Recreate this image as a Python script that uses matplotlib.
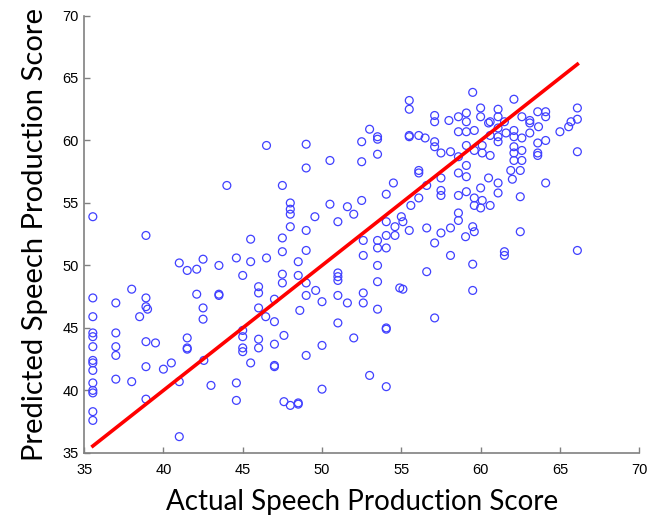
import matplotlib
matplotlib.use('Agg')
import matplotlib.pyplot as plt
import numpy as np

# actual vs predicted speech production scores
actual = [
    35.55, 35.55, 35.55, 35.55, 35.55, 35.55, 35.55, 35.55, 35.55, 35.55, 35.55, 35.55, 35.55, 35.55,
    44.0, 38.9, 37.0, 37.0, 37.0, 37.0, 37.0, 38.0, 38.0, 38.9, 38.9, 39.0, 38.5, 38.9, 39.5, 38.9,
    38.9, 40.0, 40.5, 41.0, 41.0, 41.0, 41.5, 42.1, 42.5, 42.1, 42.5, 42.5, 41.5, 41.5, 41.5, 42.55,
    43.0, 43.5, 43.5, 43.5, 44.6, 45.0, 45.5, 45.5, 44.6, 44.6, 45.0, 45.0, 45.0, 45.0, 45.5,
    46.5, 49.0, 49.0, 50.5, 53.0, 53.5, 53.5, 52.5, 52.5, 53.5, 47.5, 48.0, 48.0, 48.0, 50.5, 51.6,
    52.0, 52.5, 54.05, 54.5, 49.55, 51.0, 48.0, 49.0, 47.5, 47.5, 49.0, 46.5, 48.5, 47.5, 47.5, 48.5,
    49.0, 51.0, 51.0, 51.0, 54.05, 54.05, 54.6, 53.5, 53.5, 54.05, 52.6, 52.6, 53.5, 53.5, 54.9, 46.0,
    46.0, 47.0, 46.45, 47.0, 46.0, 48.6, 49.0, 49.6, 50.0, 51.0, 51.6, 52.6, 52.6, 53.5, 51.0, 52.0,
    54.05, 54.05, 46.0, 46.0, 47.0, 47.6, 47.0, 47.0, 49.0, 50.0, 53.0, 54.05, 50.0, 47.6, 48.0, 48.5,
    48.5,
    59.5, 55.5, 55.5, 62.1, 66.1, 66.1, 66.1, 57.1, 57.1, 58.0, 58.6, 59.1, 59.1, 60.0, 60.0, 60.6,
    61.1, 61.1, 60.5, 59.6, 58.6, 59.1, 61.1, 61.5, 62.6, 63.1, 63.1, 63.6, 64.1, 64.1, 63.65, 63.1,
    62.1, 62.1, 61.6, 62.6, 62.1, 62.1, 62.6, 62.6, 62.1, 63.6, 63.6, 64.1, 63.6, 65.0, 65.55, 65.7,
    61.1, 61.1, 60.6, 60.1, 59.6, 60.1, 60.6, 59.1, 58.6, 59.1, 58.6, 59.1, 55.5, 55.5, 56.1, 56.5,
    57.1, 57.1, 57.5, 58.1, 56.1, 56.1, 57.5, 56.6, 57.5, 57.5, 56.1, 58.6, 59.1, 59.6, 60.0, 60.0,
    60.1, 60.5, 61.1, 61.1, 60.6, 59.6, 61.9, 62.0, 62.5, 62.5, 64.1, 62.5, 66.1, 61.5, 61.5, 55.6,
    55.0, 55.1, 54.6, 55.5, 56.6, 57.5, 58.1, 58.6, 58.6, 59.05, 59.5, 59.6, 57.1, 58.1,
    59.5, 56.6, 55.1, 59.5, 57.1,
]
predicted = [
    53.9, 47.4, 45.9, 44.6, 44.3, 43.5, 42.4, 42.2, 41.6, 40.6, 40.0, 39.8, 38.3, 37.6,
    56.4, 52.4, 47.0, 44.6, 43.5, 42.8, 40.9, 48.1, 40.7, 47.4, 46.7, 46.5, 45.9, 43.9, 43.8, 41.9,
    39.3, 41.7, 42.2, 36.3, 40.7, 50.2, 49.6, 49.7, 50.5, 47.7, 46.6, 45.7, 44.2, 43.4, 43.3, 42.4,
    40.4, 50.0, 47.7, 47.6, 50.6, 49.2, 52.1, 50.3, 40.6, 39.2, 44.8, 44.3, 43.4, 43.1, 42.2,
    59.6, 59.7, 57.8, 58.4, 60.9, 60.3, 60.1, 59.9, 58.3, 58.9, 56.4, 55.0, 54.5, 54.1, 54.9, 54.7,
    54.1, 55.2, 55.7, 56.6, 53.9, 53.5, 53.1, 52.8, 52.2, 51.1, 51.2, 50.6, 50.3, 49.3, 48.6, 49.2,
    48.6, 49.4, 49.1, 48.8, 53.5, 52.4, 52.4, 52.0, 51.4, 51.4, 52.0, 50.8, 50.0, 48.7, 48.2, 48.3,
    47.8, 47.3, 45.9, 45.5, 46.6, 46.4, 47.6, 48.0, 47.1, 47.6, 47.0, 47.8, 47.0, 46.5, 45.4, 44.2,
    45.0, 44.9, 44.1, 43.4, 43.7, 44.4, 42.0, 41.9, 42.8, 43.6, 41.2, 40.3, 40.1, 39.1, 38.8, 39.0,
    38.9,
    63.85, 63.2, 62.5, 63.3, 62.6, 61.7, 59.1, 62.0, 61.5, 61.6, 61.9, 62.2, 61.5, 62.6, 61.9, 61.5,
    62.5, 61.9, 61.4, 60.8, 60.7, 60.7, 61.0, 61.5, 61.9, 61.6, 61.4, 62.3, 62.3, 61.9, 61.1, 60.6,
    60.8, 60.3, 60.6, 60.2, 59.5, 59.0, 59.2, 58.4, 58.4, 59.0, 58.8, 60.0, 59.8, 60.7, 61.1, 61.5,
    60.3, 59.9, 60.4, 59.6, 59.2, 59.0, 58.8, 59.6, 58.7, 58.0, 57.4, 57.1, 60.4, 60.3, 60.4, 60.2,
    59.9, 59.5, 59.0, 59.1, 57.6, 57.4, 57.0, 56.4, 56.0, 55.6, 55.4, 55.6, 55.9, 55.4, 56.2, 54.6,
    55.2, 57.0, 56.6, 55.8, 54.8, 54.8, 57.6, 56.9, 57.6, 55.5, 56.6, 52.7, 51.2, 51.1, 50.8, 54.8,
    53.9, 53.5, 53.1, 52.8, 53.0, 52.6, 53.0, 54.2, 53.6, 52.3, 53.1, 52.7, 51.8, 50.8,
    50.1, 49.5, 48.1, 48.0, 45.8,
]

xlim = (35, 70)
ylim = (35, 70)
ticks = np.arange(35, 71, 5)

fig = plt.figure(figsize=(6.47, 5.17), dpi=100)
ax = fig.add_axes([0.130, 0.124, 0.858, 0.846])

ax.scatter(actual, predicted, s=32, facecolors='none', edgecolors='#4040ff',
           linewidths=0.9, zorder=2)

# identity line over the range of actual scores
lo, hi = min(actual), max(actual)
ax.plot([lo, hi], [lo, hi], color='#ff0000', linewidth=2.6, zorder=3)

ax.set_xlim(*xlim)
ax.set_ylim(*ylim)
ax.set_xticks(ticks)
ax.set_yticks(ticks)
ax.tick_params(direction='in', length=4, width=1, color='#808080', labelsize=10.5)
ax.tick_params(axis='x', pad=7)
ax.tick_params(axis='y', pad=4)
for lab in ax.get_xticklabels() + ax.get_yticklabels():
    lab.set_family('Liberation Sans')

for side in ['top', 'right']:
    ax.spines[side].set_visible(False)
for side in ['left', 'bottom']:
    ax.spines[side].set_color('#808080')
    ax.spines[side].set_linewidth(1.2)

ax.set_xlabel('Actual Speech Production Score', fontsize=20, family='Lato', labelpad=9)
ax.set_ylabel('Predicted Speech Production Score', fontsize=21, family='Lato', labelpad=10)

fig.savefig('out.png', dpi=100)
